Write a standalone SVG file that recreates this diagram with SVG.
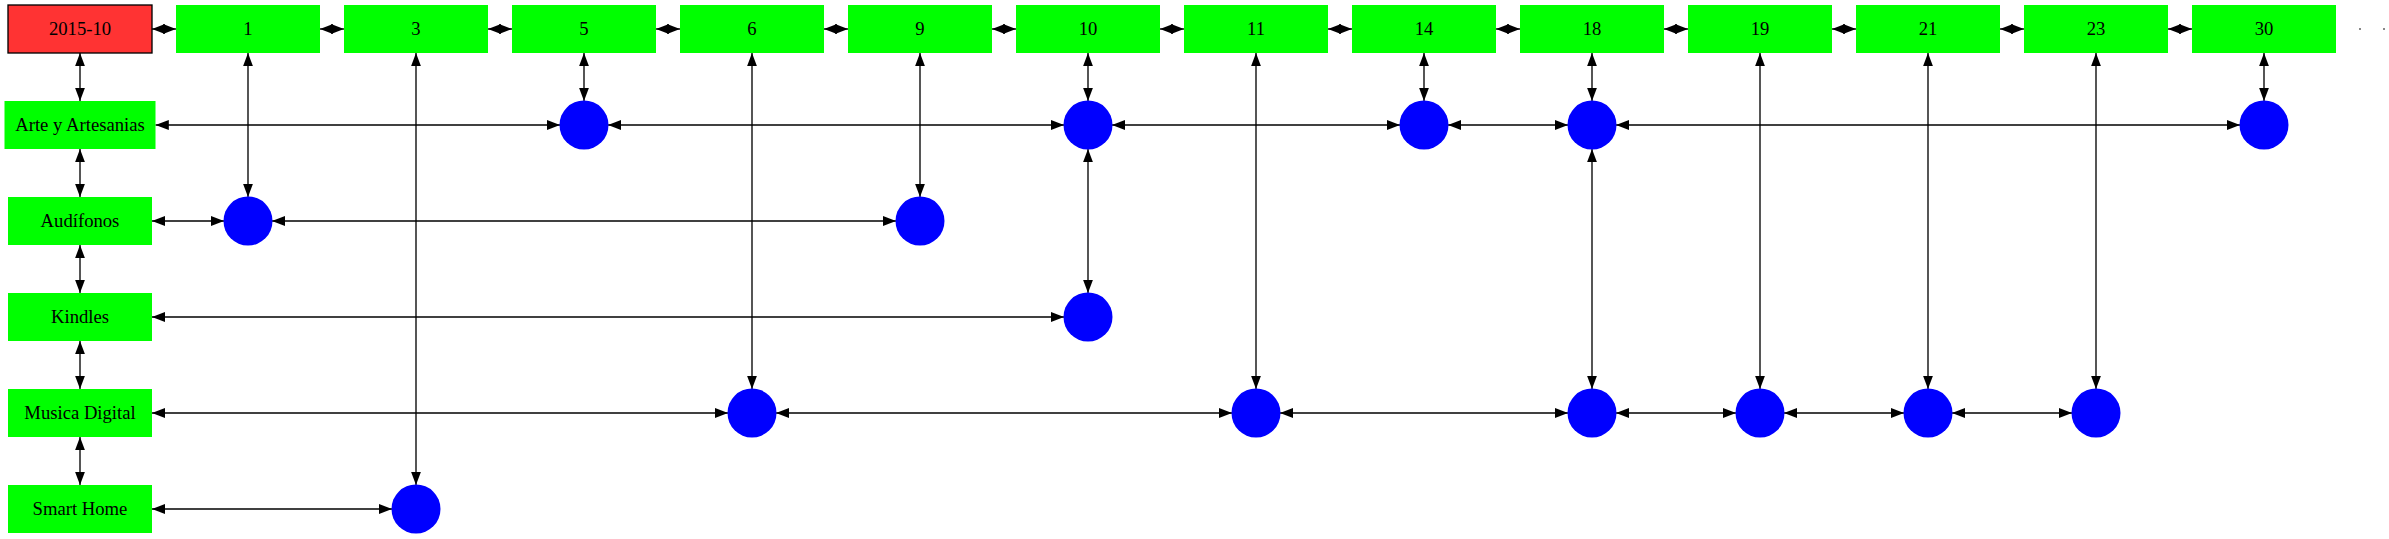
<svg xmlns="http://www.w3.org/2000/svg" width="2389" height="539" viewBox="0 0 2389 539">
<style>
.box{fill:#00ff00;stroke:none}
.red{fill:#ff3333;stroke:#000;stroke-width:1.33}
.dot{fill:#0000ff;stroke:none}
text{font-family:"Liberation Serif","Times New Roman",serif;font-size:18.67px;fill:#000;text-anchor:middle}
#edges line{stroke:#000;stroke-width:1.33;marker-start:url(#ah);marker-end:url(#ah)}
</style>
<defs>
<marker id="ah" markerUnits="userSpaceOnUse" markerWidth="14" markerHeight="11" refX="13.3" refY="5" orient="auto-start-reverse" viewBox="0 0 14 10">
<path d="M0,0 L13.3,5 L0,10 Z" fill="#000"/>
</marker>
</defs>
<rect width="2389" height="539" fill="#fff"/>
<g id="edges">
<line x1="152" y1="29" x2="176" y2="29"/>
<line x1="320" y1="29" x2="344" y2="29"/>
<line x1="488" y1="29" x2="512" y2="29"/>
<line x1="656" y1="29" x2="680" y2="29"/>
<line x1="824" y1="29" x2="848" y2="29"/>
<line x1="992" y1="29" x2="1016" y2="29"/>
<line x1="1160" y1="29" x2="1184" y2="29"/>
<line x1="1328" y1="29" x2="1352" y2="29"/>
<line x1="1496" y1="29" x2="1520" y2="29"/>
<line x1="1664" y1="29" x2="1688" y2="29"/>
<line x1="1832" y1="29" x2="1856" y2="29"/>
<line x1="2000" y1="29" x2="2024" y2="29"/>
<line x1="2168" y1="29" x2="2192" y2="29"/>
<line x1="80" y1="53" x2="80" y2="101"/>
<line x1="80" y1="149" x2="80" y2="197"/>
<line x1="80" y1="245" x2="80" y2="293"/>
<line x1="80" y1="341" x2="80" y2="389"/>
<line x1="80" y1="437" x2="80" y2="485"/>
<line x1="248" y1="53" x2="248" y2="197"/>
<line x1="416" y1="53" x2="416" y2="485"/>
<line x1="584" y1="53" x2="584" y2="101"/>
<line x1="752" y1="53" x2="752" y2="389"/>
<line x1="920" y1="53" x2="920" y2="197"/>
<line x1="1088" y1="53" x2="1088" y2="101"/>
<line x1="1088" y1="149" x2="1088" y2="293"/>
<line x1="1256" y1="53" x2="1256" y2="389"/>
<line x1="1424" y1="53" x2="1424" y2="101"/>
<line x1="1592" y1="53" x2="1592" y2="101"/>
<line x1="1592" y1="149" x2="1592" y2="389"/>
<line x1="1760" y1="53" x2="1760" y2="389"/>
<line x1="1928" y1="53" x2="1928" y2="389"/>
<line x1="2096" y1="53" x2="2096" y2="389"/>
<line x1="2264" y1="53" x2="2264" y2="101"/>
<line x1="155.5" y1="125" x2="560" y2="125"/>
<line x1="608" y1="125" x2="1064" y2="125"/>
<line x1="1112" y1="125" x2="1400" y2="125"/>
<line x1="1448" y1="125" x2="1568" y2="125"/>
<line x1="1616" y1="125" x2="2240" y2="125"/>
<line x1="152" y1="221" x2="224" y2="221"/>
<line x1="272" y1="221" x2="896" y2="221"/>
<line x1="152" y1="317" x2="1064" y2="317"/>
<line x1="152" y1="413" x2="728" y2="413"/>
<line x1="776" y1="413" x2="1232" y2="413"/>
<line x1="1280" y1="413" x2="1568" y2="413"/>
<line x1="1616" y1="413" x2="1736" y2="413"/>
<line x1="1784" y1="413" x2="1904" y2="413"/>
<line x1="1952" y1="413" x2="2072" y2="413"/>
<line x1="152" y1="509" x2="392" y2="509"/>
</g>
<g id="n-2015-10"><rect class="red" x="8" y="5" width="144" height="48"/><text x="80" y="35">2015-10</text></g>
<g id="n-1"><rect class="box" x="176" y="5" width="144" height="48"/><text x="248" y="35">1</text></g>
<g id="n-3"><rect class="box" x="344" y="5" width="144" height="48"/><text x="416" y="35">3</text></g>
<g id="n-5"><rect class="box" x="512" y="5" width="144" height="48"/><text x="584" y="35">5</text></g>
<g id="n-6"><rect class="box" x="680" y="5" width="144" height="48"/><text x="752" y="35">6</text></g>
<g id="n-9"><rect class="box" x="848" y="5" width="144" height="48"/><text x="920" y="35">9</text></g>
<g id="n-10"><rect class="box" x="1016" y="5" width="144" height="48"/><text x="1088" y="35">10</text></g>
<g id="n-11"><rect class="box" x="1184" y="5" width="144" height="48"/><text x="1256" y="35">11</text></g>
<g id="n-14"><rect class="box" x="1352" y="5" width="144" height="48"/><text x="1424" y="35">14</text></g>
<g id="n-18"><rect class="box" x="1520" y="5" width="144" height="48"/><text x="1592" y="35">18</text></g>
<g id="n-19"><rect class="box" x="1688" y="5" width="144" height="48"/><text x="1760" y="35">19</text></g>
<g id="n-21"><rect class="box" x="1856" y="5" width="144" height="48"/><text x="1928" y="35">21</text></g>
<g id="n-23"><rect class="box" x="2024" y="5" width="144" height="48"/><text x="2096" y="35">23</text></g>
<g id="n-30"><rect class="box" x="2192" y="5" width="144" height="48"/><text x="2264" y="35">30</text></g>
<g id="n-more"><rect x="2359" y="28" width="2" height="2" fill="#888"/><rect x="2383" y="28" width="2" height="2" fill="#888"/></g>
<g id="c-arte"><rect class="box" x="4.5" y="101" width="151" height="48"/><text x="80" y="131">Arte y Artesanias</text></g>
<g id="c-audifonos"><rect class="box" x="8" y="197" width="144" height="48"/><text x="80" y="227">Audífonos</text></g>
<g id="c-kindles"><rect class="box" x="8" y="293" width="144" height="48"/><text x="80" y="323">Kindles</text></g>
<g id="c-musica"><rect class="box" x="8" y="389" width="144" height="48"/><text x="80" y="419">Musica Digital</text></g>
<g id="c-smart"><rect class="box" x="8" y="485" width="144" height="48"/><text x="80" y="515">Smart Home</text></g>
<g id="p-arte-5"><circle class="dot" cx="584" cy="125" r="24.5"/></g>
<g id="p-arte-10"><circle class="dot" cx="1088" cy="125" r="24.5"/></g>
<g id="p-arte-14"><circle class="dot" cx="1424" cy="125" r="24.5"/></g>
<g id="p-arte-18"><circle class="dot" cx="1592" cy="125" r="24.5"/></g>
<g id="p-arte-30"><circle class="dot" cx="2264" cy="125" r="24.5"/></g>
<g id="p-aud-1"><circle class="dot" cx="248" cy="221" r="24.5"/></g>
<g id="p-aud-9"><circle class="dot" cx="920" cy="221" r="24.5"/></g>
<g id="p-kin-10"><circle class="dot" cx="1088" cy="317" r="24.5"/></g>
<g id="p-mus-6"><circle class="dot" cx="752" cy="413" r="24.5"/></g>
<g id="p-mus-11"><circle class="dot" cx="1256" cy="413" r="24.5"/></g>
<g id="p-mus-18"><circle class="dot" cx="1592" cy="413" r="24.5"/></g>
<g id="p-mus-19"><circle class="dot" cx="1760" cy="413" r="24.5"/></g>
<g id="p-mus-21"><circle class="dot" cx="1928" cy="413" r="24.5"/></g>
<g id="p-mus-23"><circle class="dot" cx="2096" cy="413" r="24.5"/></g>
<g id="p-sh-3"><circle class="dot" cx="416" cy="509" r="24.5"/></g>
</svg>
